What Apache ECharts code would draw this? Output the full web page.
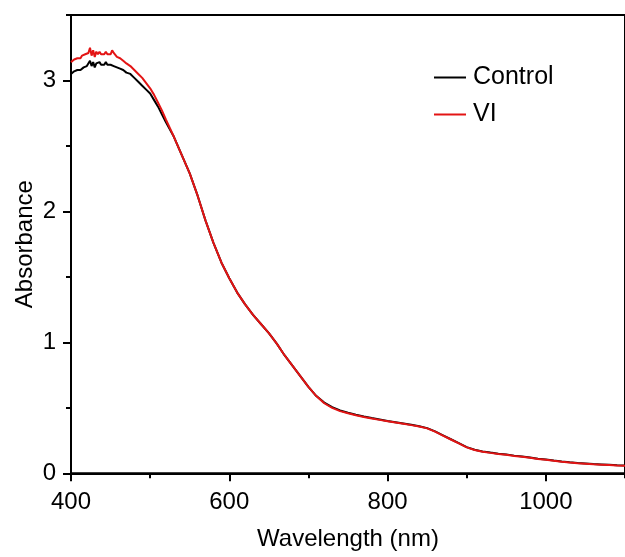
<!DOCTYPE html>
<html>
<head>
<meta charset="utf-8">
<script src="https://cdn.jsdelivr.net/npm/echarts@6/dist/echarts.min.js"></script>
<style>
html,body{margin:0;padding:0;background:#fff;}
#chart{width:625px;height:557px;}
</style>
</head>
<body>
<div id="chart"></div>
<script>
// Wavelengths (nm)
const wavelengths = [
  400,402,404,406,408,410,412,414,416,418,420,422,424,426,428,430,432,434,436,438,
  440,442,444,446,448,450,452,454,456,458,460,462,464,466,468,470,
  475,480,485,490,495,500,505,510,515,520,
  530,540,550,560,570,580,590,600,610,620,630,640,650,660,670,680,690,700,
  710,720,730,740,750,760,770,780,790,800,810,820,830,840,850,860,870,880,890,900,
  910,920,930,940,950,960,970,980,990,1000,1010,1020,1030,1040,1050,1060,1070,1080,1090,1100
];
// Absorbance, region 400-520 nm (differs between samples)
const controlHead = [
  3.05,3.06,3.07,3.07,3.08,3.09,3.08,3.09,3.10,3.09,3.11,3.10,3.15,3.11,3.14,3.10,3.13,3.12,3.14,3.12,
  3.13,3.12,3.14,3.12,3.13,3.12,3.12,3.11,3.12,3.10,3.10,3.09,3.09,3.08,3.07,3.06,
  3.05,3.02,2.99,2.96,2.93,2.90,2.85,2.80,2.74,2.68
];
const viHead = [
  3.14,3.15,3.16,3.15,3.17,3.18,3.17,3.19,3.18,3.20,3.19,3.21,3.25,3.19,3.23,3.18,3.22,3.20,3.22,3.20,
  3.21,3.20,3.22,3.20,3.21,3.20,3.23,3.21,3.20,3.18,3.17,3.17,3.16,3.15,3.14,3.13,
  3.11,3.08,3.05,3.02,2.98,2.94,2.89,2.83,2.77,2.70
];
// Absorbance, region 530-1100 nm (curves overlap)
const controlTail = [
  2.57,2.43,2.29,2.12,1.93,1.76,1.61,1.49,1.38,1.29,1.21,1.14,1.07,0.99,0.90,0.82,0.74,0.66,
  0.59,0.54,0.505,0.48,0.462,0.447,0.434,0.422,0.411,0.40,0.39,0.38,0.37,0.36,0.345,0.32,0.29,0.26,0.23,0.20,
  0.18,0.167,0.158,0.15,0.143,0.135,0.128,0.12,0.112,0.105,0.097,0.09,0.084,0.079,0.075,0.071,0.068,0.065,0.062,0.060
];
const viTail = [
  2.57,2.43,2.29,2.12,1.93,1.76,1.61,1.49,1.38,1.29,1.21,1.14,1.07,0.99,0.90,0.82,0.74,0.66,
  0.59,0.535,0.50,0.475,0.458,0.443,0.430,0.418,0.408,0.398,0.388,0.378,0.368,0.357,0.343,0.318,0.288,0.258,0.228,0.198,
  0.178,0.165,0.156,0.148,0.141,0.133,0.126,0.118,0.110,0.103,0.095,0.088,0.082,0.077,0.073,0.069,0.066,0.063,0.060,0.058
];
const xTickLabels = [400, 600, 800, 1000];
const yTickLabels = [0, 1, 2, 3];

const control = controlHead.concat(controlTail);
const vi = viHead.concat(viTail);
const toPairs = arr => wavelengths.map((w, i) => [w, arr[i]]);

const FONT = '"Liberation Sans", Arial, sans-serif';
const chart = echarts.init(document.getElementById('chart'), null, {renderer: 'canvas'});

const baseX = {
  type: 'value', min: 400, max: 1100, position: 'bottom',
  splitLine: {show: false}
};
const baseY = {
  type: 'value', min: 0, max: 3.5, position: 'left',
  splitLine: {show: false}
};

chart.setOption({
  animation: false,
  backgroundColor: '#ffffff',
  grid: {
    left: 71, top: 15, width: 561.5, height: 458.3,
    show: true, borderColor: '#000', borderWidth: 2, backgroundColor: 'transparent'
  },
  legend: {
    orient: 'vertical', left: 434, top: 65, padding: 0,
    itemWidth: 32, itemHeight: 2, itemGap: 12, icon: 'rect',
    textStyle: {fontFamily: FONT, fontSize: 25, color: '#000', lineHeight: 25, padding: [0, 0, 0, 2]},
    data: ['Control', 'VI']
  },
  xAxis: [
    Object.assign({}, baseX, {
      interval: 200,
      name: 'Wavelength (nm)', nameLocation: 'middle', nameGap: 54, nameMoveOverlap: false,
      nameTextStyle: {fontFamily: FONT, fontSize: 24, color: '#000'},
      axisLine: {show: true, onZero: false, lineStyle: {color: '#000', width: 2}},
      axisTick: {show: true, inside: false, length: 8, lineStyle: {color: '#000', width: 2}},
      axisLabel: {
        margin: 17, fontFamily: FONT, fontSize: 24, color: '#000',
        showMaxLabel: false,
        formatter: v => xTickLabels.includes(v) ? String(v) : ''
      }
    }),
    Object.assign({}, baseX, {
      interval: 100,
      axisLine: {show: false},
      axisTick: {show: true, inside: false, length: 5, lineStyle: {color: '#000', width: 2}},
      axisLabel: {show: false}
    })
  ],
  yAxis: [
    Object.assign({}, baseY, {
      interval: 1,
      name: 'Absorbance', nameLocation: 'middle', nameGap: 34, nameRotate: 90, nameMoveOverlap: false,
      nameTextStyle: {fontFamily: FONT, fontSize: 24, color: '#000'},
      axisLine: {show: true, onZero: false, lineStyle: {color: '#000', width: 2}},
      axisTick: {show: true, inside: false, length: 8, lineStyle: {color: '#000', width: 2}},
      axisLabel: {
        margin: 15, fontFamily: FONT, fontSize: 24, color: '#000',
        showMaxLabel: false,
        formatter: v => yTickLabels.includes(v) ? String(v) : ''
      }
    }),
    Object.assign({}, baseY, {
      interval: 0.5,
      axisLine: {show: false},
      axisTick: {show: true, inside: false, length: 5, lineStyle: {color: '#000', width: 2}},
      axisLabel: {show: false}
    })
  ],
  series: [
    {
      name: 'Control', type: 'line', xAxisIndex: 0, yAxisIndex: 0,
      data: toPairs(control), showSymbol: false, symbol: 'none',
      lineStyle: {color: '#000000', width: 2}, itemStyle: {color: '#000000'}
    },
    {
      name: 'VI', type: 'line', xAxisIndex: 0, yAxisIndex: 0,
      data: toPairs(vi), showSymbol: false, symbol: 'none',
      lineStyle: {color: '#e31414', width: 2}, itemStyle: {color: '#e31414'}
    }
  ]
});
</script>
</body>
</html>
